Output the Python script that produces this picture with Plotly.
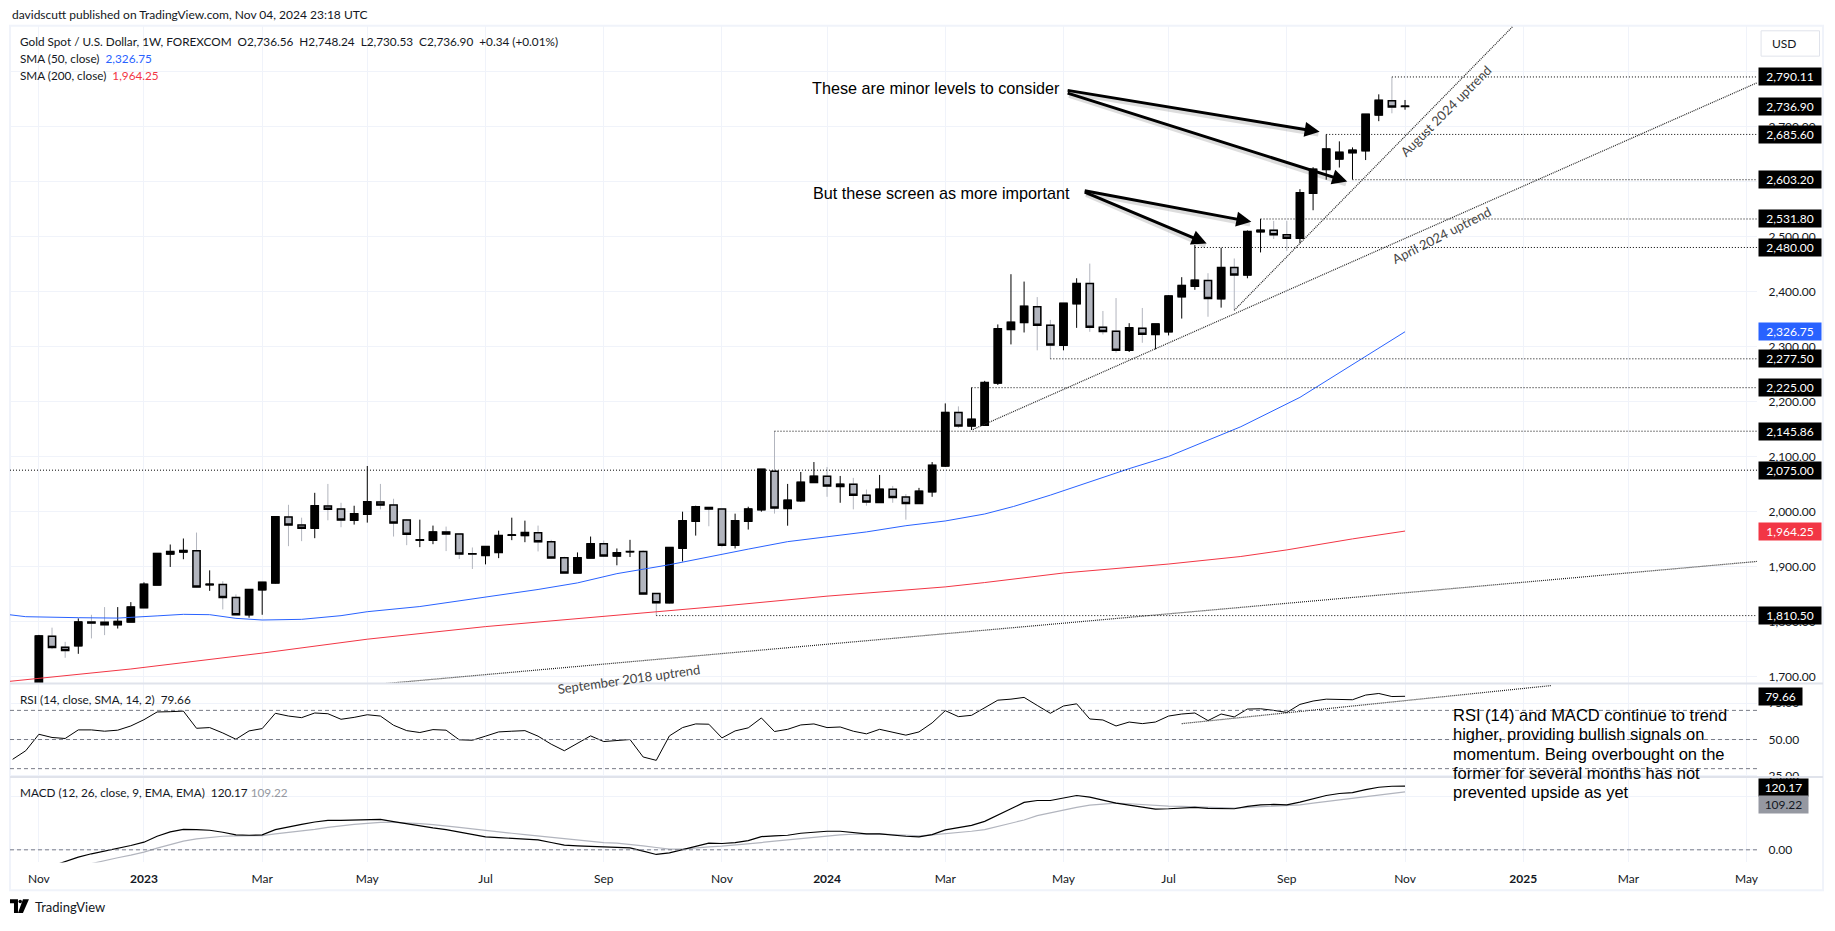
import pandas as pd
import plotly.graph_objects as go
from plotly.subplots import make_subplots

START = pd.Timestamp("2022-11-07")
# weekly candles, 2022-11-07 .. 2024-11-04
opens = [1675,1773,1753,1755.5,1799,1798.3,1794,1799,1825,1866,1922.4,1926,1928.4,1866.4,1867,1843.5,1812,1857.3,1870,1989.8,1975.4,1969.4,2009.7,2004.3,1983.8,1994.7,2016.9,2011.5,1984.4,1947.7,1947.7,1962.7,1959,1923,1920,1925.4,1956.7,1956,1961,1944.6,1915.8,1888,1915.2,1941,1918.8,1926.4,1927,1850.7,1833.8,1933.2,1982,2007.3,2004.3,1938.6,1982,2003,2073,2005.5,2019.3,2052.5,2064,2045.3,2049.5,2029.6,2016.3,2040.4,2026,2014.5,2035.6,2082.6,2180,2155.5,2156.7,2233.3,2330.8,2343.5,2372.4,2338.7,2302,2377.8,2414.5,2335,2327.8,2292.9,2333.2,2321.8,2326.6,2390.4,2409.7,2420,2386.8,2443.5,2430,2508.5,2511.5,2503,2497,2578.4,2621.7,2641,2652.5,2656,2721,2747,2736.56]
highs = [1775.4,1788.6,1762.8,1805.5,1812,1826,1826,1835,1871,1924,1939.8,1950.7,1961.5,1892.8,1873,1849,1858,1871.2,1991,2012,1988.6,2033.8,2050,2015.7,2010.3,2082.6,2050,2023,1986.2,1985,1974.2,1972.4,1959,1934.4,1936.5,1965,1988.6,1983.2,1974.2,1948.3,1917.6,1925.4,1954.3,1947,1932.6,1948.3,1929,1851,1935,1999.5,2010.3,2008,2004.3,1995.9,2008.5,2077,2145.86,2050,2071.7,2089.8,2080.8,2064.5,2061,2039.8,2066.3,2046.4,2031.4,2042.8,2089.8,2196.4,2191,2225.3,2237.4,2340,2431.4,2418,2389.8,2348.3,2378.4,2424,2450.7,2364.5,2388,2342.3,2370,2341,2393,2426,2484.4,2433.2,2479.6,2460,2511,2532,2528.4,2528.4,2586,2626,2685.6,2673,2662,2722.3,2758.5,2790.11,2748.24]
lows = [1670,1749.5,1733.8,1741,1769,1775,1787,1799,1825,1866,1899,1913,1862,1855.5,1821.8,1812,1806.7,1812,1869,1936.8,1945.9,1951.3,1983.8,1971.2,1976,1979.6,2003.7,1954.3,1938.6,1935,1940.4,1927.8,1913.3,1895.3,1903.7,1915,1947.7,1944,1927.2,1914,1888,1888,1915,1917,1902,1917,1849,1810.5,1833,1909,1956,1973,1935,1932.6,1967,1999.5,1996,1974,2017.5,2052,2026.6,2015.7,2003.7,2010.3,2016,2015.7,1985,2014.5,2026.6,2080.8,2151.8,2148,2156.7,2230,2303.7,2325.4,2292.9,2277.5,2292.9,2333.8,2326.6,2321.8,2288.7,2289.9,2306.7,2294.7,2320,2350.7,2403,2354,2370.6,2365.8,2424,2471,2495.3,2473.6,2487.4,2547.7,2603.2,2625.4,2603.6,2639,2709.7,2724,2730.53]
closes = [1773.6,1752.5,1747,1799,1797,1794,1800,1826,1867.5,1923.6,1927,1929,1862.7,1867.5,1843.5,1812,1858,1871,1990.4,1975.4,1969.4,2010.3,2003.7,1984.4,1995.9,2017.5,2011.5,1979,1958.5,1948.3,1962.7,1959,1922.4,1922.4,1936.2,1956,1957.3,1961.5,1944.6,1915.2,1888,1915.8,1941,1918.8,1924.8,1927,1850,1833.8,1934.4,1983.2,2008.5,2004.3,1938.6,1983.2,2004.3,2076.6,2006,2020.5,2053,2064,2046,2049.5,2029.6,2017,2040.4,2025.4,2014.5,2036.8,2083.8,2180,2155.5,2167.5,2234.4,2332,2344,2373,2338.7,2302.5,2378.4,2414.5,2335,2327,2292.9,2333.8,2322.4,2341,2391.7,2411,2420.6,2387.4,2443.5,2430,2509,2511.5,2503,2497,2579.6,2622.4,2659,2653,2657,2722.3,2747.6,2735.6,2736.9]

sma50_weeks = [-2.2,-1,3,6,9,11,13,15,17,20,23,25,29,32,35,38,41,44,48,52,54,57,60,63,66,69,72,74.2,77,79,83,86,91.5,96,100.8,104]
sma50_vals = [1812,1808.5,1806.7,1806,1810,1812.8,1812.2,1805.5,1802.5,1803.7,1810.4,1817.6,1827,1837.4,1848.9,1858,1870,1886.8,1903,1922.4,1931.4,1945,1953.7,1962.7,1974,1982.6,1995.3,2009,2029.6,2045.8,2077.8,2100,2154,2207.4,2279.6,2326.75]
sma200_weeks = [-2.2,7,17,25,34,44,52,60,69,72,78,86,91.5,95,100,104]
sma200_vals = [1691,1713.4,1742.3,1767.6,1790.5,1811,1827.8,1845.9,1862.7,1870.6,1888,1904.3,1918,1930,1950,1964.25]

# RSI from week -2 to 104
rsi_vals = [36.4,42.3,53.6,51.4,50.7,56.6,56.6,55.7,56.4,59.3,63.6,68.9,69.1,69.5,57.7,58.2,54.5,50.2,55.9,57.5,68.0,66.1,65.0,68.2,67.7,63.9,65.2,67.0,66.1,59.8,56.1,54.8,56.8,56.4,49.8,49.5,52.3,55.2,55.7,56.1,52.3,46.8,42.3,47.5,52.5,48.6,49.5,50.0,38.0,35.7,52.5,58.2,60.7,60.5,51.1,55.9,58.0,64.8,55.5,57.0,60.0,60.7,58.2,58.6,55.7,53.9,57.0,54.8,53.0,55.2,61.4,69.8,65.7,66.6,71.8,77.0,77.7,78.9,73.4,68.0,73.0,74.5,64.1,63.4,59.3,62.0,60.9,62.0,66.1,67.5,68.2,63.0,67.5,65.5,70.9,71.1,70.0,68.6,74.1,76.4,77.7,77.3,77.3,80.5,81.6,79.5,79.66]
# MACD from week 1 to 104, signal from week 4 to 104
macd_vals = [-30.6,-22.5,-13.75,-7.5,-2.5,2.5,8.1,14.4,25.6,33.75,38.75,38.1,36.9,33.1,28.1,27.5,28.1,38.1,43.75,48.1,52.5,55.6,55.6,56.25,57.5,57.5,53.1,48.75,44.4,41.25,38.1,33.1,28.1,24.4,23.1,21.9,21.25,18.75,13.75,8.75,7.5,6.9,5.6,5.0,3.75,-2.5,-8.75,-5.6,0.6,7.5,12.5,11.9,13.75,17.5,25,26.25,27.5,31.25,33.75,35,35,32.5,30,30,27.5,25.6,24.4,28.75,37.5,42.5,46.25,53.75,66.25,77.5,89.4,93.1,93.1,97.5,102.5,99.4,93.75,88.1,84.4,80.6,76.9,77.5,79.4,80,78.1,78.1,77.5,81.9,85,85.6,85,90,96.25,102.5,106.25,108.1,113.75,118.1,120,120.17]
signal_vals = [-26,-20,-15,-10,-4.4,3.1,10,16.25,20.6,23.75,25.6,26.25,26.25,26.9,30,32.5,35.6,38.75,42.5,45.6,48.1,50,51.9,51.9,51.25,49.4,47.5,45.6,42.5,39.4,36.25,33.75,31.25,28.75,26.25,23.1,20.6,18.1,16.25,13.75,12.5,10.6,7.5,4.4,1.25,1.25,3.75,5.6,6.9,8.75,11.25,13.75,16.25,18.75,21.25,23.75,26.25,28.1,29.4,30,30,28.75,26.9,26.25,28.1,30,32.5,35,38.1,43.75,49.4,56.25,64.4,70,75,80,84.4,86.9,88.1,86.9,85,83.1,82.5,81.9,81.25,80,78.75,78.75,80,81.25,82.5,83.1,85,88.1,91.25,94.4,97.5,100,103,106.25,109.22]

level_prices = [2790.11,2685.60,2603.20,2531.80,2480.00,2277.50,2225.00,2145.86,2075.00,1810.50]
level_starts = [103,98,100,93,88,77,71,56,-2.2,47]

tick_dates = ["2022-11-07","2023-01-02","2023-03-06","2023-05-01","2023-07-03","2023-09-04","2023-11-06","2024-01-01","2024-03-04","2024-05-06","2024-07-01","2024-09-02","2024-11-04","2025-01-06","2025-03-03","2025-05-05"]
tick_text = ["Nov","<b>2023</b>","Mar","May","Jul","Sep","Nov","<b>2024</b>","Mar","May","Jul","Sep","Nov","<b>2025</b>","Mar","May"]

price_ticks = [1700,1800,1900,2000,2100,2200,2300,2400,2500,2600,2700,2800]
black_labels = [2790.11,2736.90,2685.60,2603.20,2531.80,2480.00,2277.50,2225.00,2145.86,2075.00,1810.50]

note_lines = ["RSI (14) and MACD continue to trend","higher, providing bullish signals on","momentum. Being overbought on the","former for several months has not","prevented upside as yet"]

W, H = 1835, 931
FONT = "Lato"
TXT = "#131722"
GRID = "#F0F3FA"
DOT = "#000000"
GREY = "#B2B5BE"
BLUE = "#2962FF"
RED = "#F23645"

def wk(w):
    return START + pd.Timedelta(days=7 * w)
def px(x):
    return x / W
def py(y):
    return 1 - y / H

dates = [wk(i) for i in range(len(opens))]

fig = make_subplots(rows=3, cols=1, shared_xaxes=True, vertical_spacing=0)

# full candles: the wicks show, grey on down weeks
fig.add_trace(go.Candlestick(x=dates, open=opens, high=highs, low=lows, close=closes,
    increasing=dict(line=dict(color="#000000", width=1), fillcolor="#000000"),
    decreasing=dict(line=dict(color=GREY, width=1), fillcolor=GREY),
    whiskerwidth=0, hoverinfo="skip"), row=1, col=1)
# bodies again with the black outline
fig.add_trace(go.Candlestick(x=dates, open=opens, close=closes,
    high=[max(a, b) for a, b in zip(opens, closes)],
    low=[min(a, b) for a, b in zip(opens, closes)],
    increasing=dict(line=dict(color="#000000", width=1.5), fillcolor="#000000"),
    decreasing=dict(line=dict(color="#000000", width=1.5), fillcolor=GREY),
    whiskerwidth=0, hoverinfo="skip"), row=1, col=1)

fig.add_trace(go.Scatter(x=[wk(w) for w in sma50_weeks], y=sma50_vals, mode="lines",
    line=dict(color=BLUE, width=1), hoverinfo="skip"), row=1, col=1)
fig.add_trace(go.Scatter(x=[wk(w) for w in sma200_weeks], y=sma200_vals, mode="lines",
    line=dict(color=RED, width=1), hoverinfo="skip"), row=1, col=1)

X_END = 130.8
for p, s in zip(level_prices, level_starts):
    fig.add_trace(go.Scatter(x=[wk(s), wk(X_END)], y=[p, p], mode="lines",
        line=dict(color=DOT, width=1, dash="1px 2px"), hoverinfo="skip"), row=1, col=1)

# trendlines
for (w0, p0, w1, p1) in [(26.4, 1687, 130.8, 1909), (91, 2365.8, 112.2, 2881.9), (71.1, 2149, 130.8, 2779.6)]:
    fig.add_trace(go.Scatter(x=[wk(w0), wk(w1)], y=[p0, p1], mode="lines",
        line=dict(color="#222222", width=1.2, dash="1px 1px"), hoverinfo="skip"), row=1, col=1)

# RSI
fig.add_trace(go.Scatter(x=[wk(i - 2) for i in range(len(rsi_vals))], y=rsi_vals, mode="lines",
    line=dict(color="#000000", width=1), hoverinfo="skip"), row=2, col=1)
fig.add_trace(go.Scatter(x=[wk(87), wk(115.1)], y=[60.9, 87], mode="lines",
    line=dict(color="#222222", width=1.2, dash="1px 1px"), hoverinfo="skip"), row=2, col=1)
for v in (70, 50, 30):
    fig.add_hline(y=v, line=dict(color="#787B86", width=1, dash="4px 3px"), row=2, col=1)

# MACD
fig.add_trace(go.Scatter(x=[wk(i + 4) for i in range(len(signal_vals))], y=signal_vals, mode="lines",
    line=dict(color=GREY, width=1.2), hoverinfo="skip"), row=3, col=1)
fig.add_trace(go.Scatter(x=[wk(i + 1) for i in range(len(macd_vals))], y=macd_vals, mode="lines",
    line=dict(color="#000000", width=1.2), hoverinfo="skip"), row=3, col=1)
fig.add_hline(y=0, line=dict(color="#787B86", width=1, dash="4px 3px"), row=3, col=1)

xr = [wk(-2.2), wk(X_END)]
xcommon = dict(range=xr, tickmode="array", tickvals=tick_dates, ticktext=tick_text,
    showgrid=True, gridcolor=GRID, gridwidth=1, zeroline=False, showline=False,
    rangeslider=dict(visible=False), domain=[px(10), px(1759)])
fig.update_layout(
    xaxis=dict(**xcommon, showticklabels=False),
    xaxis2=dict(**xcommon, showticklabels=False),
    xaxis3=dict(**xcommon, showticklabels=True, tickfont=dict(family=FONT, size=12, color=TXT),
                ticks="outside", ticklen=5, tickcolor="rgba(0,0,0,0)"),
)
ycommon = dict(side="right", showgrid=True, gridcolor=GRID, gridwidth=1, zeroline=False,
    showline=False, ticks="outside", ticklen=8, tickcolor="rgba(0,0,0,0)",
    tickfont=dict(family=FONT, size=12, color=TXT), tickformat=",.2f", tickmode="array")
fig.update_layout(
    yaxis=dict(**ycommon, range=[1686.9, 2883.1], tickvals=price_ticks, domain=[py(688), py(26)]),
    yaxis2=dict(**ycommon, range=[24.3, 88.4], tickvals=[25, 50, 75], domain=[py(782), py(688)]),
    yaxis3=dict(**ycommon, range=[-23.75, 137.5], tickvals=[0, 100], domain=[py(868), py(782)]),
)

shapes = [
    dict(type="rect", xref="paper", yref="paper", x0=px(10), x1=px(1825), y0=py(896), y1=py(26),
         line=dict(color=GRID, width=2), layer="below"),
    dict(type="line", xref="paper", yref="paper", x0=px(10), x1=px(1825), y0=py(688), y1=py(688),
         line=dict(color="#E0E3EB", width=2)),
    dict(type="line", xref="paper", yref="paper", x0=px(10), x1=px(1825), y0=py(782), y1=py(782),
         line=dict(color="#E0E3EB", width=2)),
    dict(type="rect", xref="paper", yref="paper", x0=px(1763), x1=px(1821.5), y0=py(56.5), y1=py(31),
         line=dict(color="#E0E3EB", width=1), fillcolor="#FFFFFF"),
    # TradingView mark
    dict(type="path", xref="paper", yref="paper", fillcolor="#000000", line=dict(width=0),
         path=f"M {px(10)} {py(905)} L {px(18)} {py(905)} L {px(18)} {py(919)} L {px(14)} {py(919)} L {px(14)} {py(909)} L {px(10)} {py(909)} Z"),
    dict(type="circle", xref="paper", yref="paper", fillcolor="#000000", line=dict(width=0),
         x0=px(18.5), x1=px(22), y0=py(909), y1=py(905.5)),
    dict(type="path", xref="paper", yref="paper", fillcolor="#000000", line=dict(width=0),
         path=f"M {px(23)} {py(905)} L {px(29)} {py(905)} L {px(23)} {py(919)} L {px(18)} {py(919)} Z"),
]

ann = []
def text(x, y, t, size=12, color=TXT, family=FONT, **kw):
    ann.append(dict(xref="paper", yref="paper", x=px(x), y=py(y), text=t, showarrow=False,
        xanchor=kw.pop("xanchor", "left"), yanchor="middle", align="left",
        font=dict(family=family, size=size, color=color), **kw))

sp = "\u00a0\u00a0"
text(10, 15, "davidscutt published on TradingView.com, Nov 04, 2024 23:18 UTC", size=12)
text(18, 42, f"Gold Spot / U.S. Dollar, 1W, FOREXCOM{sp}O2,736.56{sp}H2,748.24{sp}L2,730.53{sp}C2,736.90{sp}+0.34 (+0.01%)", size=11.75)
text(18, 59, f"SMA (50, close){sp}<span style='color:{BLUE}'>2,326.75</span>", size=11.75)
text(18, 76, f"SMA (200, close){sp}<span style='color:{RED}'>1,964.25</span>", size=11.75)
text(18, 704, f"RSI (14, close, SMA, 14, 2){sp}79.66", size=11.75)
text(18, 798, f"MACD (12, 26, close, 9, EMA, EMA){sp}120.17 <span style='color:#9598A1'>109.22</span>", size=11.75)
text(1772, 44, "USD", size=12)
text(33, 913, "TradingView", size=13)

text(811, 89, "These are minor levels to consider", size=16.2, family="Liberation Sans", color="#000000")
text(812, 194, "But these screen as more important", size=16.2, family="Liberation Sans", color="#000000")
for i, line in enumerate(note_lines):
    text(1453, 720 + i * 19.2, line, size=16.5, family="Liberation Sans", color="#000000")

# price labels
def label(y, t, bg, fg="#FFFFFF", width=60, yref="y"):
    ann.append(dict(xref="paper", yref=yref, x=px(1760), y=y, text=t, showarrow=False,
        xanchor="left", yanchor="middle", width=width, height=15, align="center",
        bgcolor=bg, borderpad=1, font=dict(family=FONT, size=12, color=fg)))
for p in black_labels:
    label(p, f"{p:,.2f}", "#000000")
label(2326.75, "2,326.75", BLUE)
label(1964.25, "1,964.25", RED)
label(79.66, "79.66", "#000000", width=41, yref="y2")
label(117.5, "120.17", "#000000", width=47, yref="y3")
label(85, "109.22", "#9598A1", fg=TXT, width=47, yref="y3")

# slanted trendline names
for (w, p, t, a) in [(44.9, 1695, "September 2018 uptrend", -8), (107.1, 2728, "August 2024 uptrend", -45), (106.8, 2503, "April 2024 uptrend", -27)]:
    ann.append(dict(xref="x", yref="y", x=wk(w), y=p, text=t, textangle=a, showarrow=False,
        font=dict(family=FONT, size=13, color="#444444")))

# arrows: tail week/price -> head week/price
arrows = [(78.2, 2766.2, 97.5, 2690.3), (78.2, 2761.5, 99.6, 2600),
          (79.5, 2583.7, 92.3, 2526.6), (79.5, 2582, 88.9, 2487.4)]
for (w0, p0, w1, p1) in arrows:
    ann.append(dict(xref="x", yref="y", axref="x", ayref="y", x=wk(w1 - 0.1), y=p1 - 5,
        ax=wk(w0 + 0.1), ay=p0 - 5, text="", showarrow=True, arrowhead=0,
        arrowwidth=4, arrowcolor="rgba(0,0,0,0.13)"))
for (w0, p0, w1, p1) in arrows:
    ann.append(dict(xref="x", yref="y", axref="x", ayref="y", x=wk(w1), y=p1,
        ax=wk(w0), ay=p0, text="", showarrow=True, arrowhead=2, arrowsize=1,
        arrowwidth=3, arrowcolor="#000000"))

fig.update_layout(width=W, height=H, autosize=False, margin=dict(l=0, r=0, t=0, b=0, pad=0),
    paper_bgcolor="#FFFFFF", plot_bgcolor="#FFFFFF", showlegend=False,
    boxmode="overlay", boxgap=0.1, boxgroupgap=0.39,
    shapes=list(fig.layout.shapes) + shapes, annotations=ann,
    font=dict(family=FONT, color=TXT))

fig.write_html("out.html", config=dict(displayModeBar=False),
    post_script="document.body.style.margin='0';document.body.style.overflow='hidden';")
